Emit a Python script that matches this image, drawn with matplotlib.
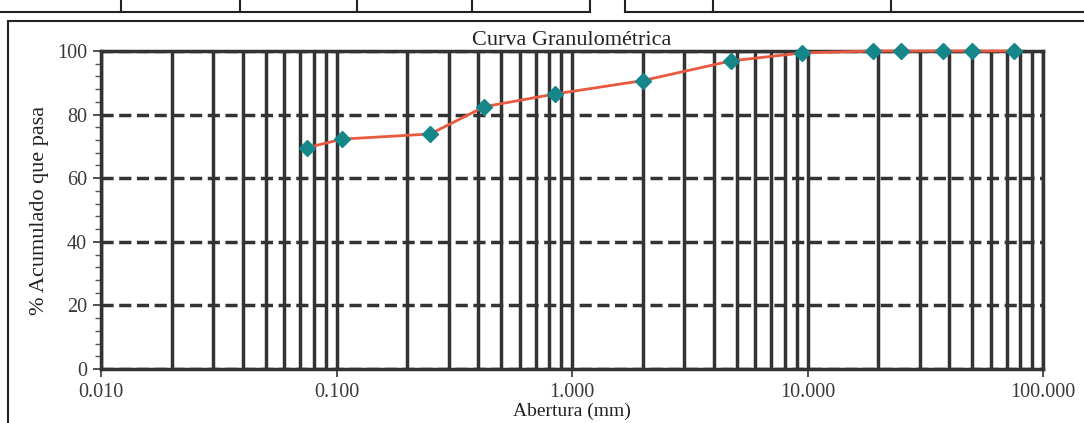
import matplotlib
matplotlib.use("Agg")
import matplotlib.pyplot as plt
from matplotlib.ticker import FixedLocator, LogLocator, MultipleLocator, FuncFormatter
from matplotlib.patches import Rectangle
from matplotlib.lines import Line2D

# Sieve openings (mm) and cumulative percent passing
abertura_mm = [0.075, 0.106, 0.250, 0.425, 0.850, 2.00, 4.75, 9.50, 19.0, 25.0, 37.5, 50.0, 75.0]
pct_pasa = [69.6, 72.3, 73.9, 82.5, 86.5, 90.7, 96.9, 99.4, 100, 100, 100, 100, 100]

x_ticks = [0.01, 0.1, 1, 10, 100]
y_ticks = [0, 20, 40, 60, 80, 100]

plt.rcParams["font.family"] = ["Liberation Serif", "DejaVu Serif"]

fig = plt.figure(figsize=(10.84, 4.23), dpi=100)
ax = fig.add_axes([101 / 1084, 1 - 369 / 423, (1043 - 101) / 1084, (369 - 51) / 423])

grid_c = "#333333"
ax.set_xscale("log")
ax.set_xlim(0.01, 100)
ax.set_ylim(0, 100)

ax.xaxis.set_major_locator(FixedLocator(x_ticks))
ax.xaxis.set_minor_locator(LogLocator(base=10, subs=range(2, 10)))
ax.xaxis.set_major_formatter(FuncFormatter(lambda v, p: f"{v:.3f}"))
ax.xaxis.set_minor_formatter(FuncFormatter(lambda v, p: ""))
ax.yaxis.set_major_locator(FixedLocator(y_ticks))
ax.yaxis.set_minor_locator(MultipleLocator(4))

ax.grid(True, axis="x", which="both", color=grid_c, lw=2.5)
ax.grid(True, axis="y", which="major", color=grid_c, lw=2.5, linestyle=(0, (3.5, 1.6)))
ax.grid(False, axis="y", which="minor")

# a couple of vertical lines came out teal on the sheet
for t in ax.xaxis.get_minor_ticks():
    if abs(t.get_loc() - 0.08) < 1e-6:
        t.gridline.set_color("#2d5f6e")
        t.gridline.set_linewidth(2.0)
for t in ax.xaxis.get_major_ticks():
    if abs(t.get_loc() - 0.1) < 1e-6:
        t.gridline.set_color("#3f8a8a")
        t.gridline.set_linewidth(1.4)

ax.tick_params(axis="x", which="major", direction="out", length=6, width=1.2, color=grid_c,
               labelsize=14.5, labelcolor="#3a3a3a", pad=4)
ax.tick_params(axis="x", which="minor", length=0)
ax.tick_params(axis="y", which="major", direction="out", length=6, width=1.2, color=grid_c,
               labelsize=14.5, labelcolor="#3a3a3a", pad=4)
ax.tick_params(axis="y", which="minor", direction="out", length=4, width=1.0, color="#555555")

for s in ax.spines.values():
    s.set_color(grid_c)
    s.set_linewidth(2.5)

ax.plot(abertura_mm, pct_pasa, color="#e85a40", lw=2.0, zorder=4, clip_on=False)
ax.plot(abertura_mm, pct_pasa, linestyle="none", marker="D", markersize=8.5,
        color="#15868a", markeredgecolor="#15868a", zorder=5, clip_on=False)

ax.set_title("Curva Granulométrica", fontsize=16, color="#222222", pad=4)
ax.set_xlabel("Abertura (mm)", fontsize=14, color="#222222", labelpad=0.5)
ax.set_ylabel("% Acumulado que pasa", fontsize=16, color="#222222", labelpad=6)

# chart frame and the table strip above it
fig.patches.append(Rectangle((8 / 1084, -0.01), 1.0, 1 - 21 / 423 + 0.01,
                             transform=fig.transFigure, fill=False, ec="#222222", lw=1.5))
fig.lines.append(Line2D([0, 590 / 1084], [1 - 12 / 423] * 2, transform=fig.transFigure,
                        color="#222222", lw=1.5))
fig.lines.append(Line2D([625 / 1084, 1], [1 - 12 / 423] * 2, transform=fig.transFigure,
                        color="#222222", lw=1.5))
for xv in [121, 240, 357, 472, 590, 625, 713, 891]:
    fig.lines.append(Line2D([xv / 1084] * 2, [1 - 12 / 423, 1], transform=fig.transFigure,
                            color="#222222", lw=1.5))

fig.savefig("out.png", dpi=100)
